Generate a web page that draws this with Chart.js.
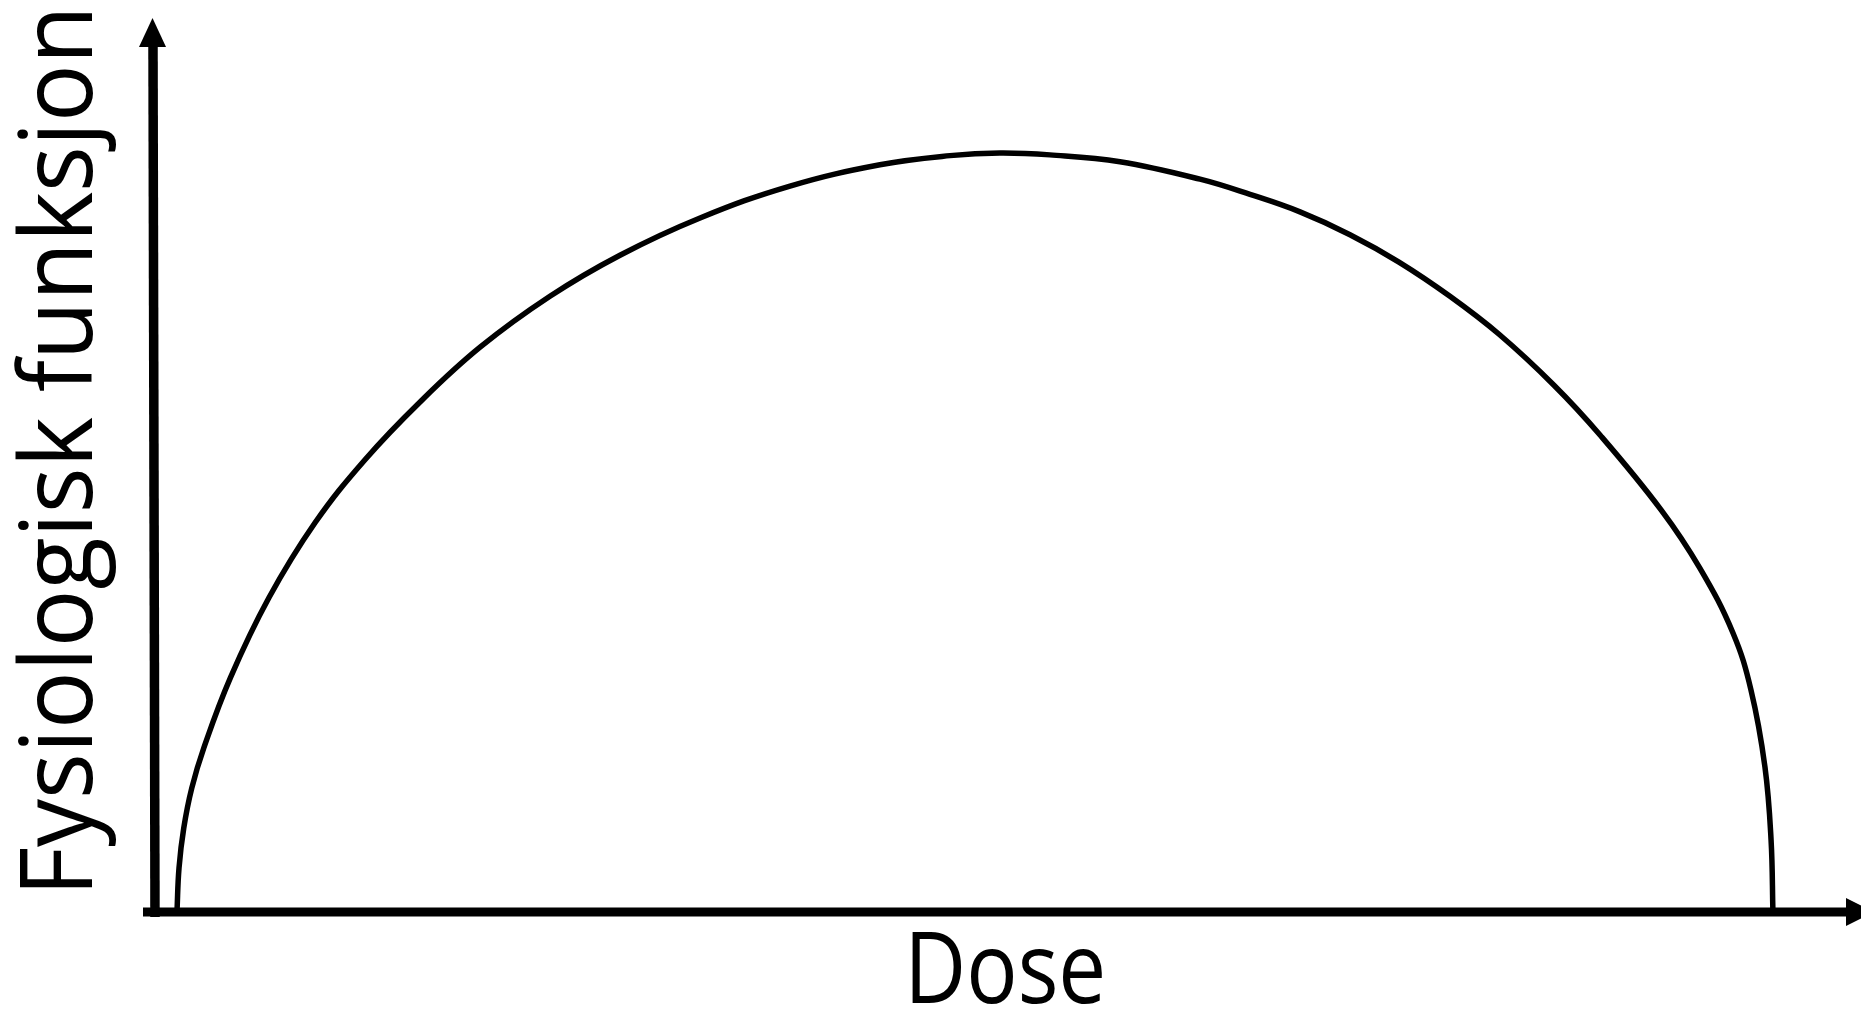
<!DOCTYPE html>
<html>
<head>
<meta charset="utf-8">
<title>Fysiologisk funksjon</title>
<script src="https://cdn.jsdelivr.net/npm/chart.js@4.4.1/dist/chart.umd.min.js"></script>
<style>
    html, body { margin: 0; padding: 0; background: #fff; }
    #wrap { width: 1861px; height: 1009px; position: relative; }
</style>
</head>
<body>
<div id="wrap"><canvas id="doseChart"></canvas></div>
<script>
//  Data (dose in arbitrary units, function 0..100 at the top)
var doseValues = [1.41, 1.53, 1.81, 2.28, 2.99, 4.55, 6.81, 9.53, 12.47, 15.71, 19.24, 23.35,
                  27.47, 32.18, 37.47, 42.76, 46.88, 49.82, 52.76, 56.88, 61.59, 64.53, 67.47,
                  70.41, 73.29, 76.29, 79.18, 82.41, 85.12, 88.71, 91.0, 92.94, 94.0, 94.82,
                  95.18, 95.29];
var functionValues = [0, 5.8, 11.05, 16.3, 21.6, 30.8, 41.3, 51.2, 59.5, 67.1, 74.3, 81.0,
                      86.4, 91.3, 95.5, 98.3, 99.5, 99.85, 99.6, 98.7, 96.4, 94.4, 92.1,
                      89.1, 85.5, 81.0, 76.0, 69.3, 62.75, 52.9, 45.2, 36.7, 29.2, 19.1,
                      9.5, 0];
var xTitle = "Dose";
var yTitle = "Fysiologisk funksjon";

var points = doseValues.map(function (d, i) {
    return {x: d, y: functionValues[i]};
});

//  draw text so that its ink runs from a to b, squeezed sideways if needed
function fitText(ctx, text, a, b) {
    var m = ctx.measureText(text);
    var ink = m.actualBoundingBoxLeft + m.actualBoundingBoxRight;
    ctx.save();
    ctx.scale((b - a) / ink, 1);
    ctx.fillText(text, m.actualBoundingBoxLeft, 0);
    ctx.restore();
}

//  axes with arrow heads plus the two axis titles
var arrowAxes = {
    id: 'arrowAxes',
    afterDatasetsDraw: function (chart) {
        var ctx = chart.ctx;
        var area = chart.chartArea;
        var x0 = chart.scales.x.getPixelForValue(0);
        var y0 = chart.scales.y.getPixelForValue(0);
        ctx.save();
        ctx.fillStyle = '#000';
        ctx.strokeStyle = '#000';
        ctx.lineCap = 'butt';

        //  y axis
        ctx.lineWidth = 9.5;
        ctx.beginPath();
        ctx.moveTo(x0, area.top + 31);
        ctx.lineTo(x0 + 2, y0 + 5);
        ctx.stroke();
        ctx.beginPath();
        ctx.moveTo(x0 - 0.5, area.top + 3);
        ctx.lineTo(x0 - 14, area.top + 32);
        ctx.lineTo(x0 + 13, area.top + 32);
        ctx.closePath();
        ctx.fill();

        //  x axis
        ctx.lineWidth = 9;
        ctx.beginPath();
        ctx.moveTo(x0 - 10, y0);
        ctx.lineTo(area.right - 5, y0);
        ctx.stroke();
        ctx.beginPath();
        ctx.moveTo(area.right - 7, y0 - 14);
        ctx.lineTo(area.right + 21, y0);
        ctx.lineTo(area.right - 7, y0 + 14);
        ctx.closePath();
        ctx.fill();

        //  titles
        ctx.textAlign = 'left';
        ctx.textBaseline = 'alphabetic';
        ctx.font = '98px "Open Sans"';
        ctx.save();
        ctx.translate(912, 1003);
        fitText(ctx, xTitle, 0, 190);
        ctx.restore();

        ctx.font = '101px "Open Sans"';
        ctx.save();
        ctx.translate(92, 888);
        ctx.rotate(-Math.PI / 2);
        fitText(ctx, yTitle, 0, 875);
        ctx.restore();
        ctx.restore();
    }
};

new Chart(document.getElementById("doseChart"), {
    type: 'line',
    data: {
        datasets: [{
            label: yTitle,
            data: points,
            borderColor: '#000',
            borderWidth: 5.5,
            pointRadius: 0,
            fill: false,
            tension: 0.4
        }]
    },
    options: {
        responsive: true,
        maintainAspectRatio: false,
        animation: false,
        layout: {padding: {left: 153, top: 15, right: 8, bottom: 97}},
        plugins: {
            legend: {display: false},
            tooltip: {enabled: false}
        },
        scales: {
            x: {type: 'linear', min: 0, max: 100, display: false},
            y: {type: 'linear', min: 0, max: 118, display: false}
        }
    },
    plugins: [arrowAxes]
});
</script>
</body>
</html>
